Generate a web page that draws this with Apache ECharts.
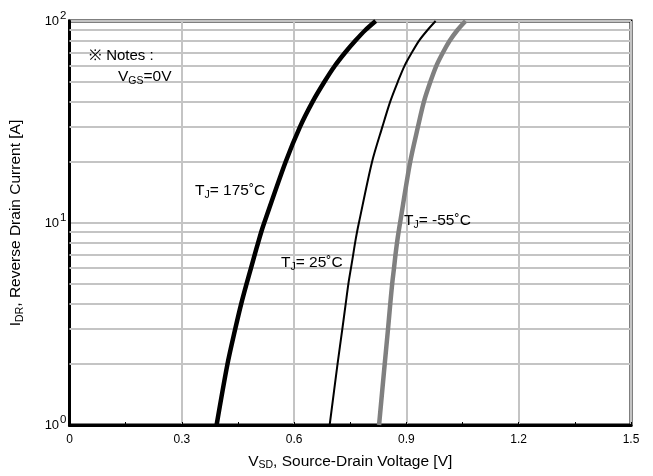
<!DOCTYPE html>
<html>
<head>
<meta charset="utf-8">
<script src="https://cdn.jsdelivr.net/npm/echarts@6/dist/echarts.min.js"></script>
<style>html,body{margin:0;padding:0;background:#fff}#c{width:653px;height:476px}</style>
</head>
<body>
<div id="c"></div>
<script>
// Current values (A) at which voltages were read
var currents = [1, 2, 3, 4, 5, 6, 7, 8, 9, 10, 20, 30, 40, 50, 60, 70, 80, 90, 100];
// Source-drain voltage (V) for each temperature
var v175 = [0.393, 0.422, 0.443, 0.459, 0.473, 0.485, 0.495, 0.504, 0.512, 0.52, 0.577, 0.616, 0.65, 0.681, 0.709, 0.737, 0.764, 0.79, 0.818];
var v25 = [0.695, 0.716, 0.729, 0.738, 0.745, 0.752, 0.758, 0.763, 0.768, 0.773, 0.808, 0.836, 0.857, 0.877, 0.895, 0.915, 0.934, 0.956, 0.978];
var vm55 = [0.827, 0.842, 0.851, 0.857, 0.862, 0.867, 0.871, 0.875, 0.879, 0.883, 0.91, 0.931, 0.947, 0.964, 0.98, 0.998, 1.016, 1.036, 1.058];
// minor horizontal grid values
var minorGrid = [2, 3, 4, 5, 6, 7, 8, 9, 20, 30, 40, 50, 60, 70, 80, 90];
var xTicks = [0, 0.3, 0.6, 0.9, 1.2, 1.5];

var FONT = '"Liberation Sans", Arial, sans-serif';
function pairs(v) { return v.map(function (x, i) { return [x, currents[i]]; }); }

var chart = echarts.init(document.getElementById('c'), null, { renderer: 'canvas' });
var richLbl = {
  n: { fontFamily: FONT, fontSize: 15.5, color: '#000' },
  sub: { fontFamily: FONT, fontSize: 10.5, color: '#000', padding: [8, 0, 0, 0] }
};
var richTitle = {
  n: { fontFamily: FONT, fontSize: 15.5, color: '#000' },
  sub: { fontFamily: FONT, fontSize: 10.5, color: '#000', padding: [8, 0, 0, 0] }
};
function tLabel(x, y, txt) {
  return {
    type: 'text', left: x, top: y, z: 10,
    style: { text: '{n|T}{sub|J}{n|' + txt + '}', rich: richLbl, fontFamily: FONT }
  };
}
var option = {
  animation: false,
  grid: { left: 68, right: 22, top: 21, bottom: 49, show: true, borderColor: '#000', borderWidth: 3, backgroundColor: 'transparent' },
  xAxis: {
    type: 'value', min: 0, max: 1.5, interval: 0.3,
    name: '{n|V}{sub|SD}{n|, Source-Drain Voltage [V]}',
    nameLocation: 'middle', nameGap: 27,
    nameTextStyle: { rich: richTitle },
    axisLine: { show: true, lineStyle: { color: '#000', width: 3 } },
    axisTick: { show: true, inside: true, length: 3, lineStyle: { color: '#000' } },
    minorTick: { show: true, splitNumber: 2, length: 3, lineStyle: { color: '#000', width: 1 } },
    axisLabel: { fontFamily: FONT, fontSize: 12, color: '#000', margin: 9,
      formatter: function (v) { return String(Math.round(v * 10) / 10); } },
    splitLine: { show: true, lineStyle: { color: '#c4c4c4', width: 2 } }
  },
  yAxis: {
    type: 'log', logBase: 10, min: 1, max: 100,
    name: '{n|I}{sub|DR}{n|, Reverse Drain Current [A]}',
    nameLocation: 'middle', nameGap: 44, nameRotate: 90,
    nameTextStyle: { rich: richTitle },
    axisLine: { show: true, lineStyle: { color: '#000', width: 3 } },
    axisTick: { show: false },
    axisLabel: {
      margin: 3,
      formatter: function (v) { return '{b|10}{sup|' + Math.round(Math.log10(v)) + '}'; },
      rich: {
        b: { fontFamily: FONT, fontSize: 13, color: '#000' },
        sup: { fontFamily: FONT, fontSize: 11.5, color: '#000', padding: [0, 0, 10, 1] }
      }
    },
    splitLine: { show: true, lineStyle: { color: '#c4c4c4', width: 2 } }
  },
  series: [
    {
      type: 'line', data: [[0, 1]], symbol: 'none', lineStyle: { opacity: 0 }, silent: true, z: 1,
      markLine: {
        silent: true, symbol: 'none', label: { show: false },
        lineStyle: { color: '#c4c4c4', width: 2, type: 'solid' },
        data: minorGrid.map(function (v) { return { yAxis: v }; })
      }
    },
    { name: '175', type: 'line', data: pairs(v175), smooth: 0.3, symbol: 'none', z: 5,
      lineStyle: { color: '#000', width: 4.5 } },
    { name: '25', type: 'line', data: pairs(v25), smooth: 0.3, symbol: 'none', z: 5,
      lineStyle: { color: '#000', width: 2 } },
    { name: '-55', type: 'line', data: pairs(vm55), smooth: 0.3, symbol: 'none', z: 5,
      lineStyle: { color: '#808080', width: 4.5 } }
  ],
  graphic: [
    { type: 'text', left: 89, top: 48, z: 10, style: { text: '※ Notes :', fontFamily: FONT, fontSize: 15, fill: '#000' } },
    { type: 'text', left: 118, top: 69, z: 10, style: { text: '{n|V}{sub|GS}{n|=0V}', rich: richLbl } },
    tLabel(195, 183, '= 175˚C'),
    tLabel(281, 255, '= 25˚C'),
    tLabel(404, 213, '= -55˚C')
  ]
};
chart.setOption(option);
</script>
</body>
</html>
